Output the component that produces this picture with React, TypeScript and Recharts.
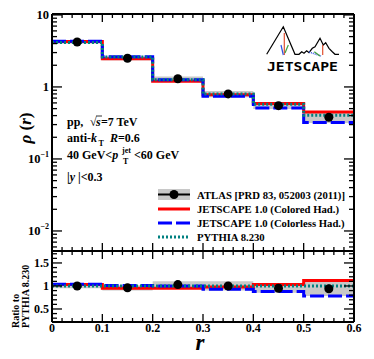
import React from 'react'
import { ComposedChart, Line, Area, Scatter, XAxis, YAxis } from 'recharts'

// bin edges / centres in r
const edges = [0, 0.1, 0.2, 0.3, 0.4, 0.5, 0.6]
const centers = [0.05, 0.15, 0.25, 0.35, 0.45, 0.55]

// rho(r)
const atlas = [4.2, 2.5, 1.3, 0.8, 0.55, 0.38]
const atlasUnc = [0.05, 0.06, 0.07, 0.1, 0.1, 0.17]
const colored = [4.27, 2.47, 1.2, 0.78, 0.59, 0.45]
const colorless = [4.3, 2.63, 1.26, 0.74, 0.51, 0.32]
const pythia = [4.15, 2.6, 1.26, 0.8, 0.575, 0.405]

// ratio to PYTHIA, lower panel
const atlasRatio = [1.0, 0.96, 1.03, 1.0, 0.95, 0.94]
const coloredRatio = [1.03, 0.95, 0.95, 0.98, 1.03, 1.12]
const colorlessRatio = [1.04, 1.01, 1.0, 0.93, 0.88, 0.78]
const pythiaRatio = [1, 1, 1, 1, 1, 1]

// ticks
const xTicks = [0, 0.02, 0.04, 0.06, 0.08, 0.1, 0.12, 0.14, 0.16, 0.18, 0.2, 0.22, 0.24, 0.26, 0.28, 0.3,
  0.32, 0.34, 0.36, 0.38, 0.4, 0.42, 0.44, 0.46, 0.48, 0.5, 0.52, 0.54, 0.56, 0.58, 0.6]
const xMajor = [0, 0.1, 0.2, 0.3, 0.4, 0.5, 0.6]
const logMajor = [0.01, 0.1, 1, 10]
const logMinor = [0.006, 0.007, 0.008, 0.009, 0.02, 0.03, 0.04, 0.05, 0.06, 0.07, 0.08, 0.09,
  0.2, 0.3, 0.4, 0.5, 0.6, 0.7, 0.8, 0.9, 2, 3, 4, 5, 6, 7, 8, 9]
const ratioMajor = [0.5, 1, 1.5]
const ratioTicks = [0.3, 0.4, 0.5, 0.6, 0.7, 0.8, 0.9, 1, 1.1, 1.2, 1.3, 1.4, 1.5, 1.6, 1.7]

const FONT = '"Liberation Serif", "Times New Roman", serif'
const RED = '#ff0000'
const BLUE = '#0000ff'
const TEAL = '#008080'
const GRAY = '#c8c8c8'

const topRows = edges.map((x, i) => {
  const k = Math.min(i, 5)
  return {
    x,
    band: [atlas[k] * (1 - atlasUnc[k]), atlas[k] * (1 + atlasUnc[k])],
    colored: colored[k],
    colorless: colorless[k],
    pythia: pythia[k],
  }
})
const ratioRows = edges.map((x, i) => {
  const k = Math.min(i, 5)
  return {
    x,
    band: [atlasRatio[k] * (1 - atlasUnc[k]), atlasRatio[k] * (1 + atlasUnc[k])],
    colored: coloredRatio[k],
    colorless: colorlessRatio[k],
    pythia: pythiaRatio[k],
  }
})
const atlasPts = centers.map((x, i) => ({ x, y: atlas[i] }))
const atlasRatioPts = centers.map((x, i) => ({ x, y: atlasRatio[i] }))

const near = (a: number, list: number[]) => list.some(b => Math.abs(a - b) < 1e-6)

type Side = 'left' | 'right' | 'top' | 'bottom'

// inward ROOT-style tick marks, label only on majors
const makeTick = (side: Side, majors: number[], majLen: number, minLen: number, label?: (v: number) => React.ReactNode, fs = 12) =>
  (props: any) => {
    const { x, y, payload } = props
    const v = payload.value
    const major = near(v, majors)
    const len = major ? majLen : minLen
    let l = { x1: x, x2: x, y1: y, y2: y }
    if (side === 'left') l = { x1: x, x2: x + len, y1: y, y2: y }
    if (side === 'right') l = { x1: x, x2: x - len, y1: y, y2: y }
    if (side === 'top') l = { x1: x, x2: x, y1: y, y2: y + len }
    if (side === 'bottom') l = { x1: x, x2: x, y1: y, y2: y - len }
    return (
      <g>
        <line {...l} stroke="#000" strokeWidth={1.3} />
        {label && major && (side === 'left' ? (
          <text x={x - 3} y={y + 4} textAnchor="end" fontSize={fs} fontFamily={FONT} fontWeight="bold" fill="#000">{label(v)}</text>
        ) : (
          <text x={x} y={y + 10} textAnchor="middle" fontSize={fs} fontFamily={FONT} fontWeight="bold" fill="#000">{label(v)}</text>
        ))}
      </g>
    )
  }

const logLabel = (v: number) => {
  if (v >= 10) return '10'
  if (v >= 1) return '1'
  const e = Math.round(Math.log10(v))
  return (
    <>
      10<tspan fontSize={8} dy={-6}>{'\u2212' + Math.abs(e)}</tspan>
    </>
  )
}

const axisLine = { stroke: '#000', strokeWidth: 2 }

function TopPanel() {
  const yAll = [...logMajor, ...logMinor]
  return (
    <ComposedChart width={374} height={359} data={topRows} margin={{ top: 13, right: 19, bottom: 107, left: 51 }}>
      <XAxis xAxisId="b" dataKey="x" type="number" domain={[0, 0.6]} ticks={xTicks} interval={0} allowDataOverflow
        height={1} tickSize={0} tickMargin={0} tickLine={false} axisLine={axisLine} tick={makeTick('bottom', xMajor, 8, 4)} />
      <XAxis xAxisId="t" orientation="top" dataKey="x" type="number" domain={[0, 0.6]} ticks={xTicks} interval={0} allowDataOverflow
        height={1} tickSize={0} tickMargin={0} tickLine={false} axisLine={axisLine} tick={makeTick('top', xMajor, 8, 4)} />
      <YAxis yAxisId="l" scale="log" type="number" domain={[0.00527, 10.3]} ticks={yAll} interval={0} allowDataOverflow
        width={1} tickSize={0} tickMargin={0} tickLine={false} axisLine={axisLine} tick={makeTick('left', logMajor, 10, 5, logLabel, 12.5)} />
      <YAxis yAxisId="r" orientation="right" scale="log" type="number" domain={[0.00527, 10.3]} ticks={yAll} interval={0} allowDataOverflow
        width={1} tickSize={0} tickMargin={0} tickLine={false} axisLine={axisLine} tick={makeTick('right', logMajor, 10, 5)} />
      <Area xAxisId="b" yAxisId="l" type="stepAfter" dataKey="band" fill={GRAY} fillOpacity={1} stroke="none" isAnimationActive={false} />
      <Line xAxisId="b" yAxisId="l" type="stepAfter" dataKey="colored" stroke={RED} strokeWidth={3} dot={false} isAnimationActive={false} />
      <Line xAxisId="b" yAxisId="l" type="stepAfter" dataKey="colorless" stroke={BLUE} strokeWidth={3} strokeDasharray="14 4" dot={false} isAnimationActive={false} />
      <Line xAxisId="b" yAxisId="l" type="stepAfter" dataKey="pythia" stroke={TEAL} strokeWidth={3} strokeDasharray="2 2" dot={false} isAnimationActive={false} />
      <Scatter xAxisId="b" yAxisId="l" data={atlasPts} dataKey="y" isAnimationActive={false}
        shape={(p: any) => <circle cx={p.cx} cy={p.cy} r={4.5} fill="#000" />} />
    </ComposedChart>
  )
}

function RatioPanel() {
  return (
    <ComposedChart width={374} height={359} data={ratioRows} margin={{ top: 250, right: 19, bottom: 36, left: 51 }}>
      <XAxis xAxisId="b" dataKey="x" type="number" domain={[0, 0.6]} ticks={xTicks} interval={0} allowDataOverflow
        height={1} tickSize={0} tickMargin={0} tickLine={false} axisLine={axisLine}
        tick={makeTick('bottom', xMajor, 8, 4, v => (v === 0 ? '0' : v.toFixed(1)), 12)} />
      <XAxis xAxisId="t" orientation="top" dataKey="x" type="number" domain={[0, 0.6]} ticks={xTicks} interval={0} allowDataOverflow
        height={1} tickSize={0} tickMargin={0} tickLine={false} axisLine={axisLine} tick={makeTick('top', xMajor, 8, 4)} />
      <YAxis yAxisId="l" type="number" domain={[0.217, 1.76]} ticks={ratioTicks} interval={0} allowDataOverflow
        width={1} tickSize={0} tickMargin={0} tickLine={false} axisLine={axisLine}
        tick={makeTick('left', ratioMajor, 10, 5, v => String(v), 12)} />
      <YAxis yAxisId="r" orientation="right" type="number" domain={[0.217, 1.76]} ticks={ratioTicks} interval={0} allowDataOverflow
        width={1} tickSize={0} tickMargin={0} tickLine={false} axisLine={axisLine} tick={makeTick('right', ratioMajor, 10, 5)} />
      <Area xAxisId="b" yAxisId="l" type="stepAfter" dataKey="band" fill={GRAY} fillOpacity={1} stroke="none" isAnimationActive={false} />
      <Line xAxisId="b" yAxisId="l" type="stepAfter" dataKey="colored" stroke={RED} strokeWidth={3} dot={false} isAnimationActive={false} />
      <Line xAxisId="b" yAxisId="l" type="stepAfter" dataKey="colorless" stroke={BLUE} strokeWidth={3} strokeDasharray="14 4" dot={false} isAnimationActive={false} />
      <Line xAxisId="b" yAxisId="l" type="stepAfter" dataKey="pythia" stroke={TEAL} strokeWidth={3} strokeDasharray="2 2" dot={false} isAnimationActive={false} />
      <Scatter xAxisId="b" yAxisId="l" data={atlasRatioPts} dataKey="y" isAnimationActive={false}
        shape={(p: any) => <circle cx={p.cx} cy={p.cy} r={4.5} fill="#000" />} />
    </ComposedChart>
  )
}

const logoLine = '266.7,54.3 283.3,26.7 295,54.3 299,54.3 301.7,51.7 304,53.3 306.7,50.7 309,52.7 312.3,48.3 315,46.7 320,38.3 323.3,45 325.7,42.7 329,48.3 332.3,51.7 335,54.3 339,54.3'

function Overlay() {
  const legendY = [194.5, 209, 223, 237]
  return (
    <svg width={374} height={359} style={{ position: 'absolute', left: 0, top: 0, pointerEvents: 'none' }}
      fontFamily={FONT} fontWeight="bold" fill="#000">
      {/* axis titles */}
      <text transform="translate(31,128) rotate(-90)" textAnchor="middle" fontSize={17}>
        <tspan fontStyle="italic">ρ</tspan> (<tspan fontStyle="italic">r</tspan>)
      </text>
      <text transform="translate(18.5,328) rotate(-90)" fontSize={10}>Ratio to</text>
      <text transform="translate(29,328) rotate(-90)" fontSize={10}>PYTHIA 8.230</text>
      <text x={200} y={350} textAnchor="middle" fontSize={23} fontStyle="italic">r</text>

      {/* annotations */}
      <text x={67} y={126} fontSize={12}>pp,</text>
      <text x={90} y={126} fontSize={12}>√</text>
      <line x1={96} x2={102} y1={116} y2={116} stroke="#000" strokeWidth={0.8} />
      <text x={96} y={126} fontSize={12} fontStyle="italic">s</text>
      <text x={101} y={126} fontSize={12}>=7 TeV</text>

      <text x={67} y={142} fontSize={12}>anti-<tspan fontStyle="italic">k</tspan></text>
      <text x={98.5} y={146} fontSize={8}>T</text>
      <text x={110} y={142} fontSize={12}><tspan fontStyle="italic">R</tspan>=0.6</text>

      <text x={67} y={159} fontSize={12}>40 GeV&lt;<tspan fontStyle="italic">p</tspan></text>
      <text x={123} y={164} fontSize={8}>T</text>
      <text x={122} y={153} fontSize={8}>jet</text>
      <text x={134} y={159} fontSize={12}>&lt;60 GeV</text>

      <text x={67} y={181} fontSize={12}>|<tspan fontStyle="italic">y</tspan> |&lt;0.3</text>

      {/* legend */}
      <rect x={158} y={189} width={32} height={11} fill={GRAY} />
      <line x1={158} x2={190} y1={legendY[0]} y2={legendY[0]} stroke="#000" strokeWidth={2} />
      <circle cx={174} cy={legendY[0]} r={4.5} fill="#000" />
      <line x1={158} x2={190} y1={legendY[1]} y2={legendY[1]} stroke={RED} strokeWidth={3} />
      <line x1={158} x2={190} y1={legendY[2]} y2={legendY[2]} stroke={BLUE} strokeWidth={3} strokeDasharray="14 4" />
      <line x1={158} x2={190} y1={legendY[3]} y2={legendY[3]} stroke={TEAL} strokeWidth={3} strokeDasharray="2 2" />
      <text x={197} y={legendY[0] + 4} fontSize={10.7}>ATLAS [PRD 83, 052003 (2011)]</text>
      <text x={197} y={legendY[1] + 4} fontSize={10.7}>JETSCAPE 1.0 (Colored Had.)</text>
      <text x={197} y={legendY[2] + 4} fontSize={10.7}>JETSCAPE 1.0 (Colorless Had.)</text>
      <text x={197} y={legendY[3] + 4} fontSize={10.7}>PYTHIA 8.230</text>

      {/* JETSCAPE logo */}
      <polyline points={logoLine} fill="none" stroke="#000" strokeWidth={1.2} />
      <line x1={284.3} y1={33} x2={284.3} y2={55} stroke="#e05030" strokeWidth={1.2} />
      <line x1={281} y1={45} x2={283.3} y2={55} stroke="#3050e0" strokeWidth={1.2} />
      <line x1={285} y1={53} x2={288.3} y2={45} stroke="#40a040" strokeWidth={1.2} />
      <line x1={322.7} y1={45} x2={322.7} y2={55} stroke="#e05030" strokeWidth={1.2} />
      <line x1={309} y1={52} x2={321} y2={56} stroke="#3050e0" strokeWidth={1.5} strokeDasharray="1 1" />
      <line x1={314.3} y1={51.7} x2={320} y2={56} stroke="#40a040" strokeWidth={1.2} />
      <text x={267} y={70.5} fontSize={13} fontFamily='"DejaVu Sans Mono", monospace' fontWeight="bold"
        textLength={71} lengthAdjust="spacingAndGlyphs">JETSCAPE</text>
    </svg>
  )
}

export default function App() {
  return (
    <div style={{ position: 'absolute', left: 0, top: 0, width: 374, height: 359, background: '#fff' }}>
      <div style={{ position: 'absolute', left: 0, top: 0 }}><TopPanel /></div>
      <div style={{ position: 'absolute', left: 0, top: 0 }}><RatioPanel /></div>
      <Overlay />
    </div>
  )
}
